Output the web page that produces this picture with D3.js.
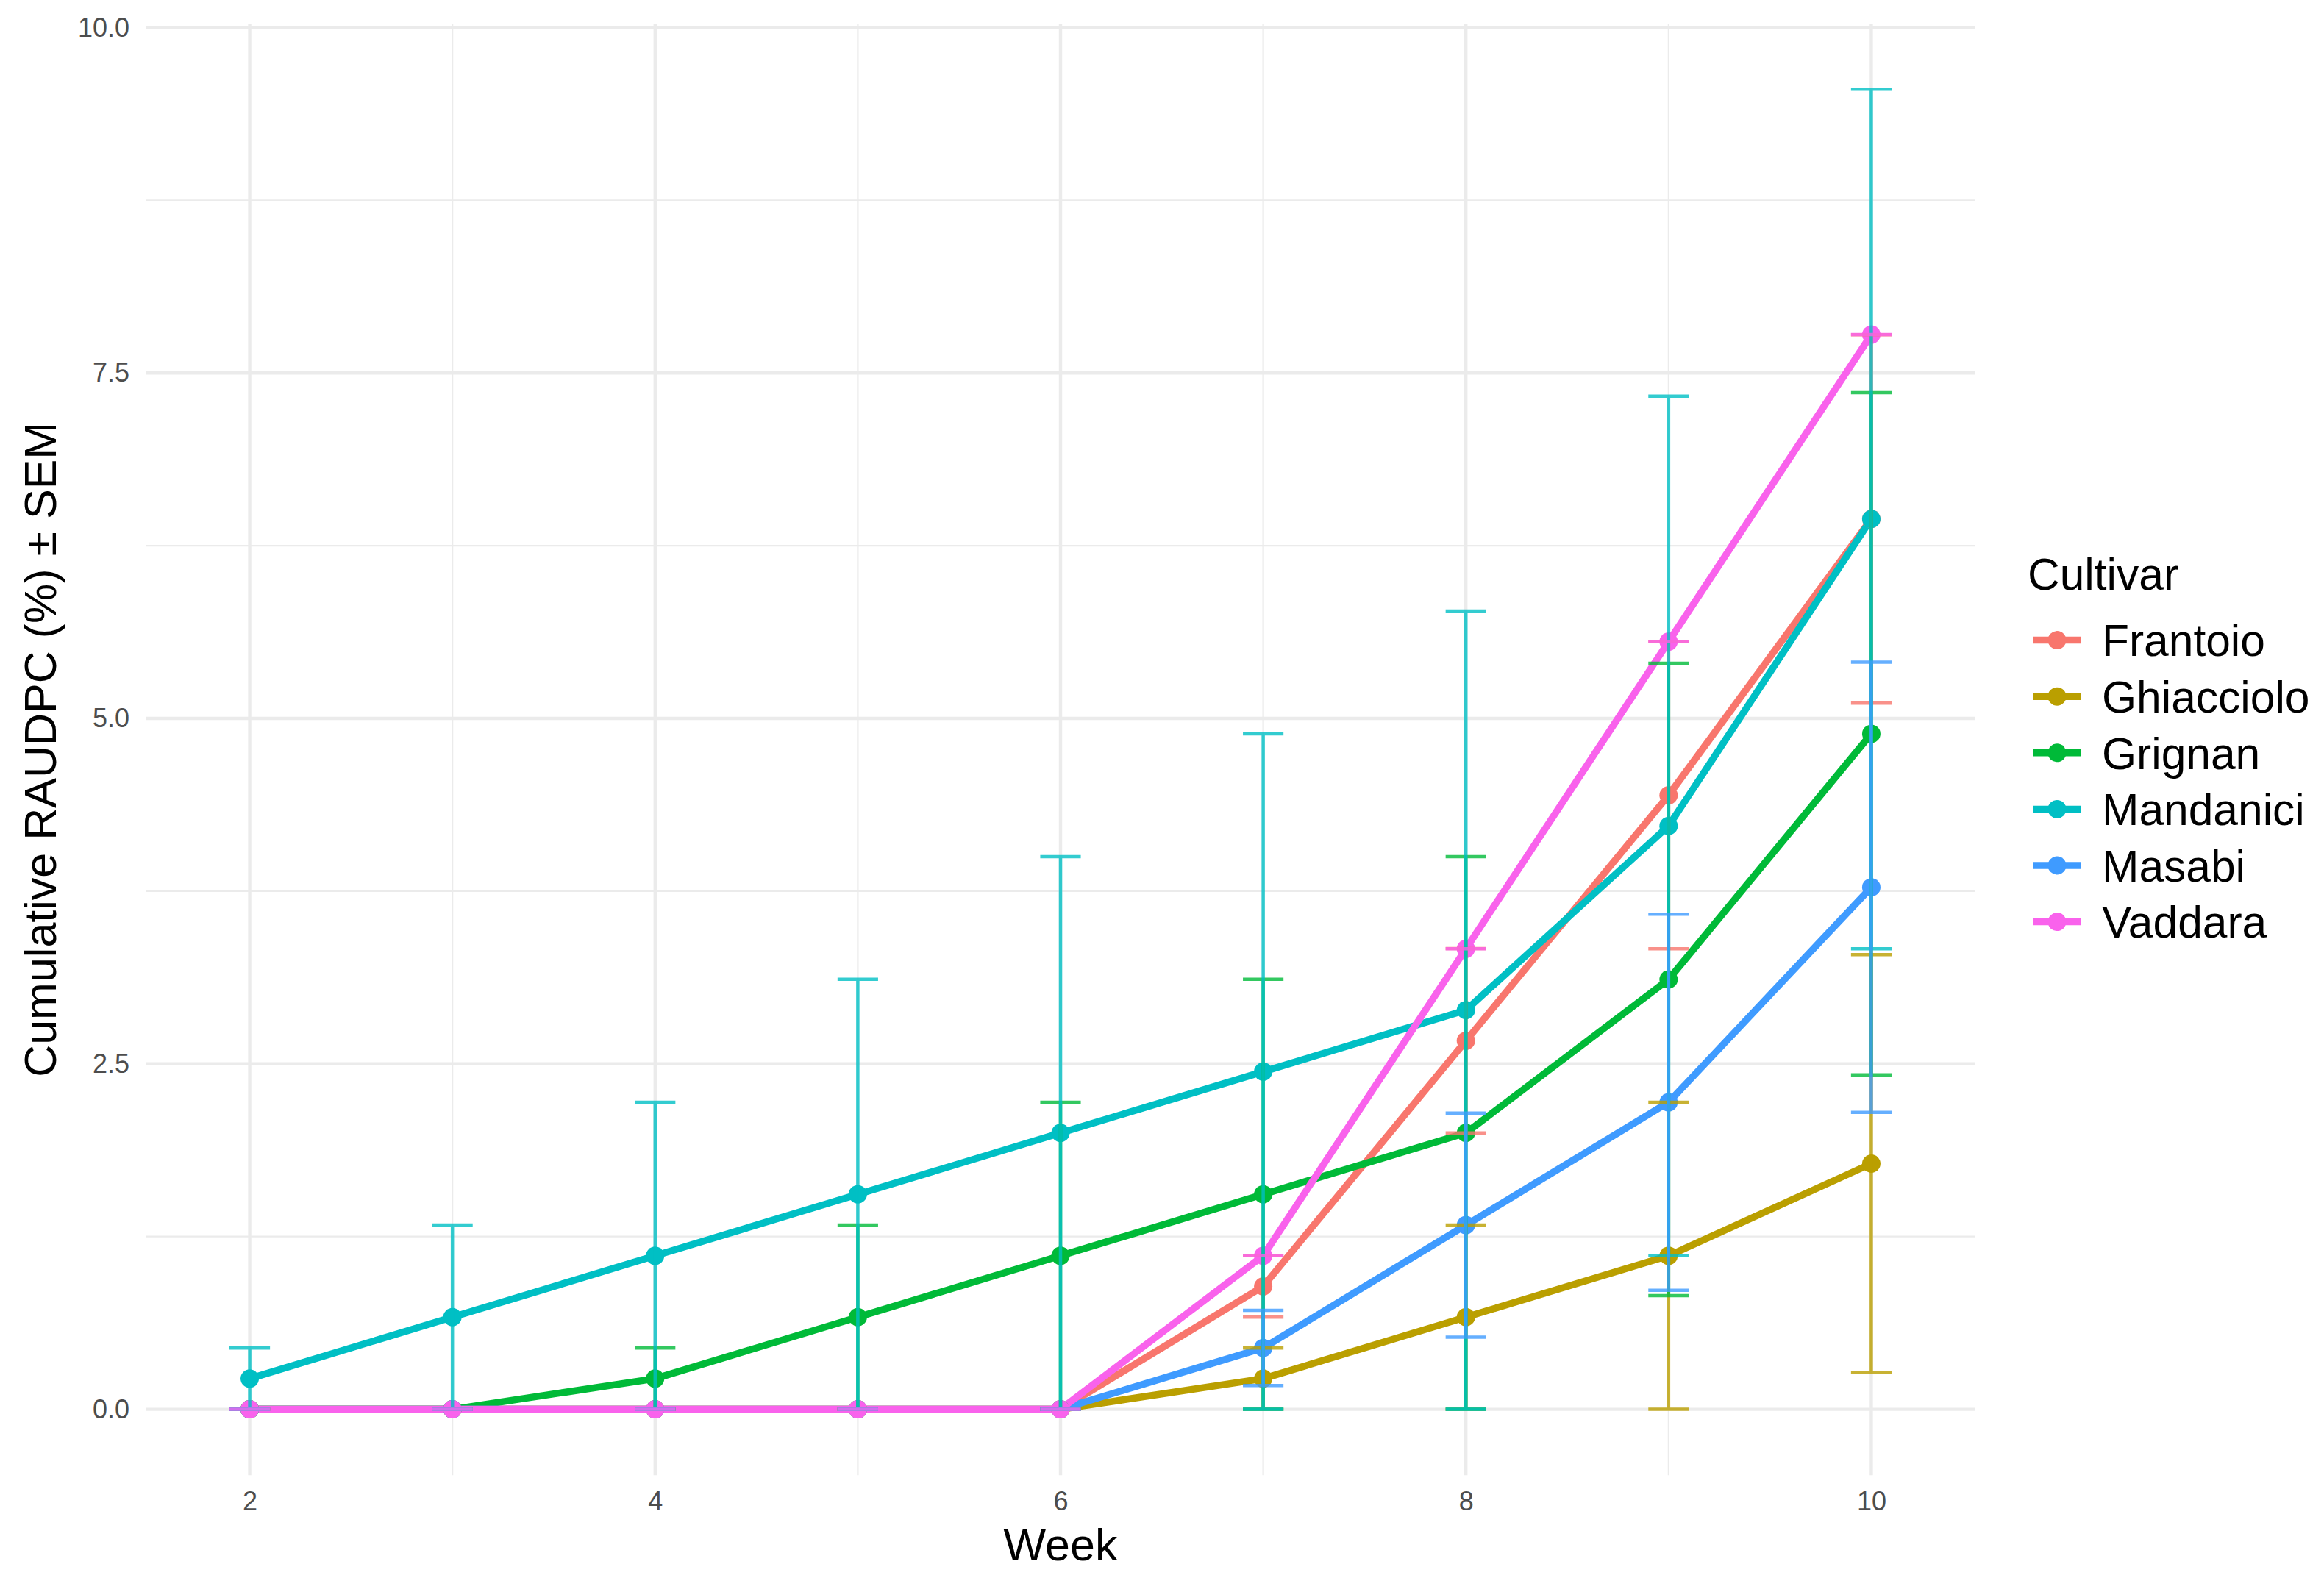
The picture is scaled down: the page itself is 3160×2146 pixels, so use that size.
<!DOCTYPE html>
<html>
<head>
<meta charset="utf-8">
<script src="https://cdn.jsdelivr.net/npm/d3@7"></script>
<style>
  html, body { margin: 0; padding: 0; background: #ffffff; }
  svg { display: block; font-family: "Liberation Sans", Arial, sans-serif; }
</style>
</head>
<body>
<svg id="chart" width="3160" height="2146"></svg>
<script>
// ---------------- DATA ----------------
const weeks = [2, 3, 4, 5, 6, 7, 8, 9, 10];
const cultivars = ["Frantoio", "Ghiacciolo", "Grignan", "Mandanici", "Masabi", "Vaddara"];
const colors = ["#F8766D", "#BA9F00", "#00BA38", "#00BFC4", "#3F9BFF", "#F962EC"];

const frantoioMean   = [0, 0, 0, 0, 0, 0.889, 2.667, 4.444, 6.444];
const frantoioSem    = [0, 0, 0, 0, 0, 0.222, 0.667, 1.111, 1.333];
const ghiaccioloMean = [0, 0, 0, 0, 0, 0.222, 0.667, 1.111, 1.778];
const ghiaccioloSem  = [0, 0, 0, 0, 0, 0.222, 0.667, 1.111, 1.513];
const grignanMean    = [0, 0, 0.222, 0.667, 1.111, 1.556, 2.0, 3.111, 4.889];
const grignanSem     = [0, 0, 0.222, 0.667, 1.111, 1.556, 2.0, 2.289, 2.469];
const mandaniciMean  = [0.222, 0.667, 1.111, 1.556, 2.0, 2.444, 2.889, 4.222, 6.444];
const mandaniciSem   = [0.222, 0.667, 1.111, 1.556, 2.0, 2.444, 2.889, 3.111, 3.111];
const masabiMean     = [0, 0, 0, 0, 0, 0.444, 1.333, 2.222, 3.778];
const masabiSem      = [0, 0, 0, 0, 0, 0.272, 0.811, 1.361, 1.629];
const vaddaraMean    = [0, 0, 0, 0, 0, 1.111, 3.333, 5.556, 7.778];
const vaddaraSem     = [0, 0, 0, 0, 0, 0, 0, 0, 0];

const xTicks = [2, 4, 6, 8, 10];
const xMinor = [3, 5, 7, 9];
const yTicks = [0, 2.5, 5, 7.5, 10];
const yTickLabels = ["0.0", "2.5", "5.0", "7.5", "10.0"];
const yMinor = [1.25, 3.75, 6.25, 8.75];

const xTitle = "Week";
const yTitle = "Cumulative RAUDPC (%) ± SEM";
const legendTitle = "Cultivar";

// ---------------- BUILD ----------------
const means = [frantoioMean, ghiaccioloMean, grignanMean, mandaniciMean, masabiMean, vaddaraMean];
const sems  = [frantoioSem, ghiaccioloSem, grignanSem, mandaniciSem, masabiSem, vaddaraSem];
const series = cultivars.map((name, i) => ({
  name, color: colors[i],
  values: weeks.map((w, j) => ({ week: w, mean: means[i][j], sem: sems[i][j] }))
}));

const panel = { left: 199, right: 2685, top: 32.4, bottom: 2006.3 };
const x = d3.scaleLinear().domain([1.49, 10.51]).range([panel.left, panel.right]);
const y = d3.scaleLinear().domain([-0.4775, 10.0275]).range([panel.bottom, panel.top]);

const svg = d3.select("#chart");
svg.append("rect").attr("width", 3160).attr("height", 2146).attr("fill", "#ffffff");

// grid
const grid = svg.append("g");
grid.selectAll("line.ymin").data(yMinor).join("line")
  .attr("x1", panel.left).attr("x2", panel.right)
  .attr("y1", d => y(d)).attr("y2", d => y(d))
  .attr("stroke", "#EBEBEB").attr("stroke-width", 2.2);
grid.selectAll("line.xmin").data(xMinor).join("line")
  .attr("y1", panel.top).attr("y2", panel.bottom)
  .attr("x1", d => x(d)).attr("x2", d => x(d))
  .attr("stroke", "#EBEBEB").attr("stroke-width", 2.2);
grid.selectAll("line.ymaj").data(yTicks).join("line")
  .attr("x1", panel.left).attr("x2", panel.right)
  .attr("y1", d => y(d)).attr("y2", d => y(d))
  .attr("stroke", "#EBEBEB").attr("stroke-width", 4.4);
grid.selectAll("line.xmaj").data(xTicks).join("line")
  .attr("y1", panel.top).attr("y2", panel.bottom)
  .attr("x1", d => x(d)).attr("x2", d => x(d))
  .attr("stroke", "#EBEBEB").attr("stroke-width", 4.4);

// axes (labels only, via d3 axes)
const yAxis = d3.axisLeft(y).tickValues(yTicks).tickFormat((d, i) => yTickLabels[i]).tickSize(0).tickPadding(23);
const gy = svg.append("g").attr("transform", `translate(${panel.left},0)`).call(yAxis);
gy.select(".domain").remove();
gy.selectAll("text").attr("font-size", 36).attr("fill", "#4D4D4D")
  .attr("font-family", "Liberation Sans, Arial, sans-serif");

const xAxis = d3.axisBottom(x).tickValues(xTicks).tickFormat(d3.format("d")).tickSize(0).tickPadding(22);
const gx = svg.append("g").attr("transform", `translate(0,${panel.bottom})`).call(xAxis);
gx.select(".domain").remove();
gx.selectAll("text").attr("font-size", 36).attr("fill", "#4D4D4D")
  .attr("font-family", "Liberation Sans, Arial, sans-serif");

// titles
svg.append("text").attr("x", (panel.left + panel.right) / 2).attr("y", 2122)
  .attr("text-anchor", "middle").attr("font-size", 61).attr("fill", "#000")
  .text(xTitle);
svg.append("text").attr("transform", `translate(76,${(panel.top + panel.bottom) / 2}) rotate(-90)`)
  .attr("text-anchor", "middle").attr("font-size", 61).attr("fill", "#000")
  .text(yTitle);

// lines
const line = d3.line().x(d => x(d.week)).y(d => y(d.mean));
svg.append("g").selectAll("path").data(series).join("path")
  .attr("d", d => line(d.values))
  .attr("fill", "none").attr("stroke", d => d.color)
  .attr("stroke-width", 9.5).attr("stroke-linejoin", "round").attr("stroke-linecap", "butt");

// points
const pts = svg.append("g");
series.forEach(s => {
  pts.selectAll(null).data(s.values).join("circle")
    .attr("cx", d => x(d.week)).attr("cy", d => y(d.mean)).attr("r", 12.5)
    .attr("fill", s.color);
});

// error bars
const halfW = 0.1;
const eb = svg.append("g");
series.forEach(s => {
  eb.selectAll(null).data(s.values).join("path")
    .attr("d", d => {
      const lo = Math.max(0, d.mean - d.sem), hi = d.mean + d.sem;
      const p = d3.path();
      p.moveTo(x(d.week - halfW), y(hi)); p.lineTo(x(d.week + halfW), y(hi));
      p.moveTo(x(d.week), y(hi)); p.lineTo(x(d.week), y(lo));
      p.moveTo(x(d.week - halfW), y(lo)); p.lineTo(x(d.week + halfW), y(lo));
      return p.toString();
    })
    .attr("fill", "none").attr("stroke", s.color).attr("stroke-width", 4.5)
    .attr("stroke-opacity", 0.8);
});

// legend
const lg = svg.append("g");
lg.append("text").attr("x", 2757).attr("y", 780).attr("dy", "0.36em")
  .attr("font-size", 60.5).attr("fill", "#000").text(legendTitle);
series.forEach((s, i) => {
  const cy = 870.6 + i * 76.6;
  lg.append("line").attr("x1", 2765).attr("x2", 2829).attr("y1", cy).attr("y2", cy)
    .attr("stroke", s.color).attr("stroke-width", 9.5);
  lg.append("circle").attr("cx", 2797).attr("cy", cy).attr("r", 12.5).attr("fill", s.color);
  lg.append("text").attr("x", 2858).attr("y", cy).attr("dy", "0.36em")
    .attr("font-size", 60.5).attr("fill", "#000").text(s.name);
});
</script>
</body>
</html>
